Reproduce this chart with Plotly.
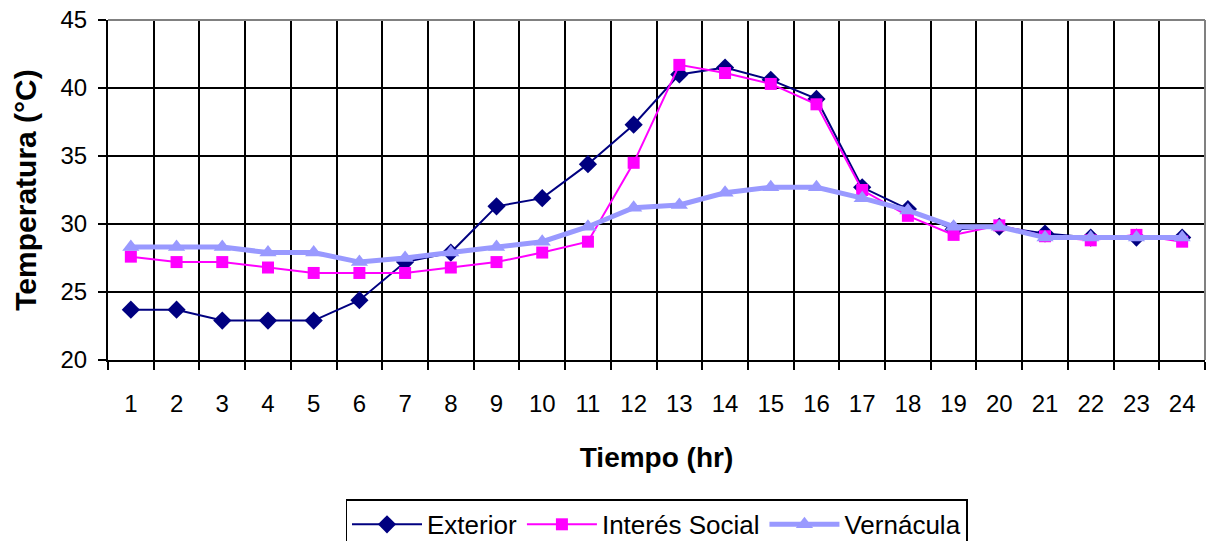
import plotly.graph_objects as go

horas = [str(h) for h in range(1, 25)]
exterior = [23.7, 23.7, 22.9, 22.9, 22.9, 24.4, 27.2, 27.9, 31.3, 31.9, 34.4, 37.3,
            41.0, 41.5, 40.6, 39.2, 32.7, 31.1, 29.6, 29.8, 29.3, 29.0, 29.0, 29.0]
interes_social = [27.6, 27.2, 27.2, 26.8, 26.4, 26.4, 26.4, 26.8, 27.2, 27.9, 28.7, 34.5,
                  41.7, 41.1, 40.3, 38.8, 32.5, 30.6, 29.2, 29.9, 29.1, 28.8, 29.2, 28.7]
vernacula = [28.3, 28.3, 28.3, 27.9, 27.9, 27.2, 27.5, 27.9, 28.3, 28.7, 29.8, 31.2,
             31.4, 32.3, 32.7, 32.7, 31.9, 31.0, 29.8, 29.8, 29.0, 29.0, 29.0, 29.0]
y_ticks = [20, 25, 30, 35, 40, 45]

FONT = "Liberation Sans, Arial, sans-serif"

fig = go.Figure()
fig.add_trace(go.Scatter(x=horas, y=exterior, name="Exterior", mode="lines+markers",
                         line=dict(color="#000080", width=2),
                         marker=dict(symbol="diamond", size=14, color="#000080")))
fig.add_trace(go.Scatter(x=horas, y=interes_social, name="Interés Social", mode="lines+markers",
                         line=dict(color="#FF00FF", width=2),
                         marker=dict(symbol="square", size=12, color="#FF00FF")))
fig.add_trace(go.Scatter(x=horas, y=vernacula, name="Vernácula", mode="lines+markers",
                         line=dict(color="#9999FF", width=5),
                         marker=dict(symbol="triangle-up", size=15, color="#9999FF")))

fig.update_layout(
    width=1210, height=541,
    margin=dict(l=108, r=5, t=20, b=181, autoexpand=False),
    paper_bgcolor="white", plot_bgcolor="white",
    font=dict(family=FONT, size=24, color="black"),
    showlegend=True,
    legend=dict(orientation="h", x=0.5, xanchor="center", y=-0.41, yanchor="top",
                bordercolor="black", borderwidth=1.5, font=dict(family=FONT, size=26),
                itemsizing="trace", tracegroupgap=0, itemwidth=70),
    xaxis=dict(type="category", tickson="boundaries", ticks="outside", ticklen=8,
               tickwidth=2, tickcolor="black", showgrid=True, gridcolor="black",
               gridwidth=2, showline=True, linecolor="black", linewidth=2,
               tickfont=dict(family=FONT, size=24), range=[-0.5, 23.5],
               ticklabelstandoff=21, automargin=False,
               title=dict(text="<b>Tiempo (hr)</b>", font=dict(family=FONT, size=28), standoff=32)),
    yaxis=dict(range=[20, 45], tickvals=y_ticks, ticks="outside", ticklen=8,
               tickwidth=2, tickcolor="black", showgrid=True, gridcolor="black",
               gridwidth=2, showline=True, linecolor="black", linewidth=2,
               tickfont=dict(family=FONT, size=24), zeroline=False,
               ticklabelstandoff=6, automargin=False,
               title=dict(text="<b>Temperatura (°C)</b>", font=dict(family=FONT, size=30), standoff=15)),
)
fig.add_shape(type="line", xref="paper", yref="paper", x0=0, x1=1, y0=1, y1=1,
              line=dict(color="#808080", width=2))
fig.add_shape(type="line", xref="paper", yref="paper", x0=1, x1=1, y0=0, y1=1,
              line=dict(color="#808080", width=2))

fig.write_html("out.html")
